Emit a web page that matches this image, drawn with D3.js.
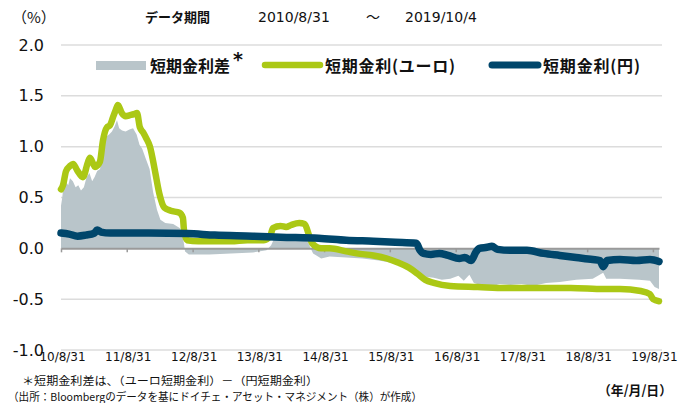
<!DOCTYPE html>
<html>
<head>
<meta charset="utf-8">
<script src="https://cdn.jsdelivr.net/npm/d3@7"></script>
<style>
  body { margin: 0; background: #fff; }
  svg { display: block; }
</style>
</head>
<body>
<div id="chart"></div>
<script>
// values (%)

var euroDates = ["2010-08-31","2010-09-11","2010-09-28","2010-10-20","2010-11-06","2010-11-28","2010-12-31","2011-01-28","2011-02-08","2011-03-08","2011-04-04","2011-04-21","2011-05-13","2011-05-30","2011-06-16","2011-07-01","2011-07-13","2011-08-04","2011-08-25","2011-09-18","2011-10-10","2011-10-27","2011-11-12","2011-11-30","2011-12-18","2012-01-07","2012-02-03","2012-02-28","2012-03-27","2012-05-01","2012-06-19","2012-07-08","2012-07-14","2012-07-31","2012-10-01","2013-01-01","2013-04-01","2013-07-01","2013-10-01","2013-11-05","2013-11-20","2014-01-01","2014-02-01","2014-03-01","2014-04-15","2014-05-15","2014-06-10","2014-06-25","2014-08-15","2014-10-01","2015-01-01","2015-03-01","2015-06-01","2015-08-15","2015-10-15","2015-12-15","2016-02-01","2016-03-15","2016-05-01","2016-08-01","2017-01-01","2017-06-01","2018-01-01","2018-06-01","2018-12-01","2019-03-01","2019-06-25","2019-08-15","2019-09-01","2019-10-04"];
var euroValues = [0.58,0.62,0.76,0.81,0.83,0.77,0.70,0.85,0.89,0.80,0.85,1.06,1.19,1.21,1.29,1.36,1.41,1.33,1.30,1.31,1.32,1.33,1.19,1.14,1.08,1.00,0.77,0.54,0.40,0.37,0.35,0.30,0.18,0.08,0.07,0.07,0.07,0.08,0.08,0.12,0.20,0.22,0.21,0.23,0.25,0.24,0.12,0.05,0.00,0.00,-0.03,-0.05,-0.07,-0.10,-0.14,-0.19,-0.25,-0.31,-0.34,-0.37,-0.38,-0.39,-0.39,-0.39,-0.40,-0.40,-0.42,-0.45,-0.50,-0.52];

var yenDates = ["2010-08-31","2010-10-15","2010-12-01","2011-01-15","2011-03-05","2011-03-20","2011-04-10","2011-06-01","2012-01-01","2012-08-01","2013-01-01","2013-08-01","2014-01-01","2014-08-01","2015-01-01","2015-06-01","2015-10-01","2016-01-25","2016-02-15","2016-03-05","2016-04-15","2016-06-01","2016-07-20","2016-09-20","2016-10-20","2016-11-25","2016-12-20","2017-01-10","2017-02-20","2017-03-20","2017-04-20","2017-07-01","2017-10-01","2018-01-01","2018-04-01","2018-07-01","2018-10-01","2018-11-10","2018-11-28","2018-12-20","2019-03-01","2019-06-01","2019-08-15","2019-10-04"];
var yenValues = [0.15,0.14,0.12,0.13,0.15,0.18,0.16,0.15,0.15,0.145,0.13,0.12,0.11,0.10,0.08,0.07,0.06,0.05,-0.02,-0.05,-0.06,-0.05,-0.07,-0.10,-0.09,-0.12,-0.04,0.00,0.01,0.02,-0.01,-0.02,-0.02,-0.05,-0.07,-0.09,-0.11,-0.12,-0.18,-0.12,-0.11,-0.12,-0.11,-0.13];

var spreadDates = ["2010-08-31","2010-09-07","2010-09-14","2010-09-25","2010-10-10","2010-10-20","2010-11-05","2010-11-20","2010-12-05","2010-12-20","2011-01-05","2011-01-20","2011-02-05","2011-02-20","2011-03-05","2011-03-20","2011-04-05","2011-04-15","2011-04-28","2011-05-10","2011-05-25","2011-06-10","2011-06-25","2011-07-08","2011-07-20","2011-08-05","2011-08-25","2011-09-15","2011-10-05","2011-10-25","2011-11-10","2011-11-25","2011-12-15","2012-01-05","2012-01-25","2012-02-15","2012-03-05","2012-04-01","2012-05-15","2012-06-20","2012-07-05","2012-07-20","2012-08-10","2012-12-01","2013-04-01","2013-08-01","2013-10-15","2013-11-10","2013-11-25","2014-02-01","2014-04-15","2014-05-20","2014-06-15","2014-07-01","2014-08-15","2014-10-01","2015-01-01","2015-04-01","2015-07-01","2015-10-01","2015-12-15","2016-02-01","2016-03-15","2016-05-01","2016-06-15","2016-08-01","2016-09-15","2016-10-15","2016-11-15","2016-12-10","2017-02-01","2017-03-15","2017-05-01","2017-07-01","2017-09-01","2017-11-01","2018-01-15","2018-04-01","2018-07-01","2018-10-01","2018-11-28","2018-12-15","2019-03-01","2019-06-15","2019-08-15","2019-09-10","2019-10-04"];
var spreadValues = [0.42,0.50,0.62,0.66,0.62,0.69,0.66,0.60,0.62,0.57,0.60,0.70,0.74,0.66,0.70,0.76,0.78,0.95,1.05,1.10,1.12,1.15,1.20,1.26,1.18,1.16,1.15,1.17,1.18,1.12,1.02,0.98,0.88,0.78,0.55,0.38,0.28,0.25,0.24,0.20,0.15,-0.03,-0.06,-0.06,-0.05,-0.04,-0.02,0.03,0.09,0.10,0.13,0.12,0.01,-0.05,-0.10,-0.08,-0.09,-0.10,-0.12,-0.15,-0.18,-0.22,-0.28,-0.29,-0.31,-0.30,-0.27,-0.32,-0.26,-0.34,-0.37,-0.38,-0.35,-0.36,-0.35,-0.37,-0.34,-0.33,-0.31,-0.30,-0.24,-0.30,-0.30,-0.31,-0.32,-0.38,-0.40];

var yTicks = [-1.0,-0.5,0.0,0.5,1.0,1.5,2.0];
var xTickDates = ["2010-08-31","2011-08-31","2012-08-31","2013-08-31","2014-08-31","2015-08-31","2016-08-31","2017-08-31","2018-08-31","2019-08-31"];

var legendLabels = ["短期金利差","短期金利(ユーロ)","短期金利(円)"];

var grayCol = "#b9c5ca", greenCol = "#abc815", navyCol = "#00466b";

var parse = d3.timeParse("%Y-%m-%d");
function zipSeries(dates, vals) {
  return dates.map(function(d, i) { return {date: parse(d), v: vals[i]} })
}
var euro = zipSeries(euroDates, euroValues);
var yen = zipSeries(yenDates, yenValues);
var spread = zipSeries(spreadDates, spreadValues);

var W = 693, H = 403;
var svg = d3.select("#chart").append("svg")
  .attr("width", W).attr("height", H);

var x = d3.scaleTime()
  .domain([parse("2010-08-31"), parse("2019-10-04")])
  .range([61, 659]);
var y = d3.scaleLinear()
  .domain([-1, 2])
  .range([350, 45]);

// grid
svg.append("g").selectAll("line")
  .data(yTicks.filter(function(t) { return t != 0 }))
  .enter().append("line")
  .attr("x1", 61).attr("x2", 662)
  .attr("y1", function(d) { return y(d) })
  .attr("y2", function(d) { return y(d) })
  .attr("stroke", "#dcdcdc")
  .attr("stroke-width", 1.5);

// y axis labels
var yAxis = svg.append("g")
  .attr("transform", "translate(44,0)")
  .call(d3.axisLeft(y).tickValues(yTicks).tickSize(0).tickPadding(0)
    .tickFormat(function(d) { return d3.format(".1f")(d).replace("−", "-") }));
yAxis.select(".domain").remove();
yAxis.selectAll("text")
  .attr("font-family", "'DejaVu Sans', sans-serif")
  .attr("font-size", 16)
  .attr("fill", "#111");

// spread area
svg.append("path")
  .datum(spread)
  .attr("fill", grayCol)
  .attr("d", d3.area()
    .x(function(d) { return x(d.date) })
    .y0(y(0))
    .y1(function(d) { return y(d.v) }));

// zero line with ticks
var zeroAxis = svg.append("g")
  .attr("transform", "translate(0," + y(0) + ")")
  .call(d3.axisBottom(x).tickValues(xTickDates.map(parse)).tickSize(4).tickSizeOuter(0).tickFormat(""));
zeroAxis.select(".domain").attr("stroke", "#9a9a9a").attr("stroke-width", 2);
zeroAxis.selectAll(".tick line").attr("stroke", "#9a9a9a").attr("stroke-width", 1.5);

var line = d3.line()
  .x(function(d) { return x(d.date) })
  .y(function(d) { return y(d.v) })
  .curve(d3.curveMonotoneX);

svg.append("path")
  .datum(euro)
  .attr("fill", "none")
  .attr("stroke", greenCol)
  .attr("stroke-width", 6.5)
  .attr("stroke-linejoin", "round")
  .attr("stroke-linecap", "round")
  .attr("d", line);

svg.append("path")
  .datum(yen)
  .attr("fill", "none")
  .attr("stroke", navyCol)
  .attr("stroke-width", 7.5)
  .attr("stroke-linejoin", "round")
  .attr("stroke-linecap", "round")
  .attr("d", line);

// x labels
var xAxis = svg.append("g")
  .attr("transform", "translate(1,352)")
  .call(d3.axisBottom(x).tickValues(xTickDates.map(parse)).tickSize(0).tickPadding(0)
    .tickFormat(d3.timeFormat("%y/%-m/%d")));
xAxis.select(".domain").remove();
xAxis.selectAll("text")
  .attr("font-family", "'DejaVu Sans', sans-serif")
  .attr("font-size", 12)
  .attr("fill", "#111");

// header
var hdr = svg.append("g").attr("font-family", "'DejaVu Sans', sans-serif").attr("fill", "#111");
hdr.append("text").attr("x", 12).attr("y", 23).attr("font-size", 15)
  .attr("font-family", "'Noto Sans CJK JP', sans-serif").text("（%）");
hdr.append("text").attr("x", 145).attr("y", 22).attr("font-size", 13).attr("font-weight", "bold")
  .attr("font-family", "'Noto Sans CJK JP', sans-serif").text("データ期間");
hdr.append("text").attr("x", 258).attr("y", 22).attr("font-size", 14).text("2010/8/31");
hdr.append("text").attr("x", 366).attr("y", 22).attr("font-size", 14)
  .attr("font-family", "'Noto Sans CJK JP', sans-serif").text("～");
hdr.append("text").attr("x", 405).attr("y", 22).attr("font-size", 14).text("2019/10/4");

// legend
var leg = svg.append("g")
  .attr("font-family", "'Noto Sans CJK JP', sans-serif")
  .attr("font-weight", "bold")
  .attr("font-size", 16)
  .attr("fill", "#111");
leg.append("rect").attr("x", 96).attr("y", 61).attr("width", 50).attr("height", 9).attr("fill", grayCol);
leg.append("text").attr("x", 150).attr("y", 72).text(legendLabels[0]);
leg.append("text").attr("x", 233).attr("y", 66).attr("font-size", 19)
  .attr("font-family", "'DejaVu Sans', sans-serif").text("*");
leg.append("line").attr("x1", 265).attr("x2", 320).attr("y1", 65).attr("y2", 65)
  .attr("stroke", greenCol).attr("stroke-width", 6.5).attr("stroke-linecap", "round");
leg.append("text").attr("x", 325).attr("y", 72).attr("textLength", 130).text(legendLabels[1]);
leg.append("line").attr("x1", 492).attr("x2", 538).attr("y1", 65).attr("y2", 65)
  .attr("stroke", navyCol).attr("stroke-width", 7).attr("stroke-linecap", "round");
leg.append("text").attr("x", 543).attr("y", 72).attr("textLength", 97).text(legendLabels[2]);

// footnotes
var foot = svg.append("g")
  .attr("font-family", "'Noto Sans CJK JP', sans-serif")
  .attr("font-size", 11)
  .attr("fill", "#111");
foot.append("text").attr("x", 22).attr("y", 385).attr("textLength", 296).attr("lengthAdjust", "spacingAndGlyphs")
  .text("＊短期金利差は、（ユーロ短期金利）－（円短期金利）");
foot.append("text").attr("x", 8).attr("y", 401).attr("textLength", 414).attr("lengthAdjust", "spacingAndGlyphs")
  .text("（出所：Bloombergのデータを基にドイチェ・アセット・マネジメント（株）が作成）");
foot.append("text").attr("x", 598).attr("y", 395).attr("font-weight", "bold").attr("font-size", 13)
  .attr("textLength", 74).attr("lengthAdjust", "spacingAndGlyphs")
  .text("（年/月/日）");
</script>
</body>
</html>
